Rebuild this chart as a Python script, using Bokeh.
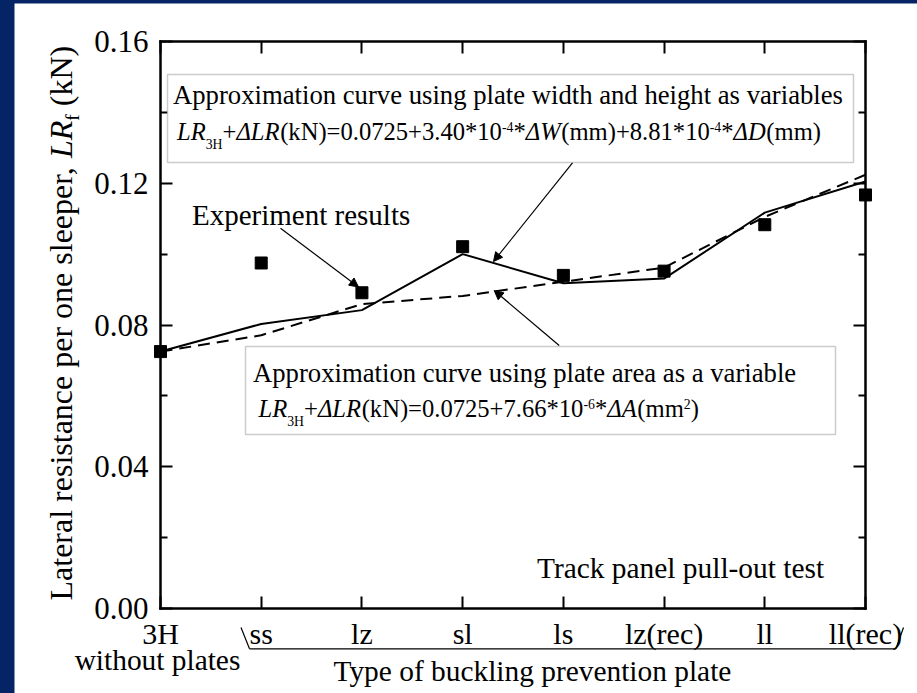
import math
from bokeh.plotting import figure
from bokeh.models import (Range1d, FixedTicker, LinearAxis, Label, BoxAnnotation,
                          Arrow, NormalHead, Spacer, PrintfTickFormatter)
from bokeh.layouts import column, row
from bokeh.embed import file_html
from bokeh.resources import INLINE

# ---------------- data ----------------
categories = ["3H", "ss", "lz", "sl", "ls", "lz(rec)", "ll", "ll(rec)"]
experiment = [0.0725, 0.0975, 0.0891, 0.1021, 0.0940, 0.0952, 0.1083, 0.1167]
fit_width_height = [0.0725, 0.0803, 0.0842, 0.1000, 0.0918, 0.0931, 0.1117, 0.1205]
fit_area = [0.0725, 0.0771, 0.0859, 0.0882, 0.0922, 0.0962, 0.1105, 0.1224]
y_ticks = [0.0, 0.04, 0.08, 0.12, 0.16]
y_minor = [0.02, 0.06, 0.10, 0.14]

NAVY = "#042466"
FONT = "Liberation Serif"

# plot box in page pixels (figure is placed at page offset 14,3 and covers the white area)
FX0, FX1, FY0, FY1 = 160, 865, 41, 608
XMAX, YMAX = len(categories) - 1, 0.16
BASE_FIX = 0.35  # baseline correction (em) for Label text in this renderer


def dx(px):
    return (px - FX0) / (FX1 - FX0) * XMAX


def dy(py):
    return (FY1 - py) / (FY1 - FY0) * YMAX


p = figure(width=903, height=690,
           x_range=Range1d(dx(14), dx(917)), y_range=Range1d(dy(693), dy(3)),
           output_backend="svg", toolbar_location=None,
           min_border_left=0, min_border_right=0, min_border_top=0, min_border_bottom=0,
           background_fill_color="white", border_fill_color="white")
p.xgrid.visible = False
p.ygrid.visible = False
p.outline_line_color = None

xs = list(range(len(categories)))

# axes (drawn at the edges of the data box)
xa = p.xaxis[0]
xa.ticker = FixedTicker(ticks=xs, minor_ticks=[])
xa.major_label_overrides = {i: c for i, c in enumerate(categories)}
xa.fixed_location = 0.0
xa.bounds = (0, XMAX)
ya = p.yaxis[0]
ya.ticker = FixedTicker(ticks=y_ticks, minor_ticks=y_minor)
ya.formatter = PrintfTickFormatter(format="%.2f")
ya.fixed_location = 0
ya.bounds = (0, YMAX)

top = LinearAxis(ticker=FixedTicker(ticks=xs, minor_ticks=[]), fixed_location=YMAX,
                 bounds=(0, XMAX), major_label_overrides={i: "" for i in xs})
right = LinearAxis(ticker=FixedTicker(ticks=y_ticks, minor_ticks=y_minor),
                   fixed_location=XMAX, bounds=(0, YMAX),
                   major_label_overrides={t: "" for t in y_ticks})
p.add_layout(top, "above")
p.add_layout(right, "right")

for ax in (xa, ya, top, right):
    ax.axis_line_color = "black"
    ax.axis_line_width = 2.5
    ax.axis_line_cap = "square"
    ax.major_tick_line_color = "black"
    ax.major_tick_line_width = 2
    ax.minor_tick_line_color = "black"
    ax.minor_tick_line_width = 2
    ax.major_tick_in = 12
    ax.major_tick_out = 0
    ax.minor_tick_in = 7
    ax.minor_tick_out = 0
    ax.major_label_text_font = FONT
    ax.major_label_text_color = "black"

xa.major_label_text_font_size = "30px"
xa.major_label_standoff = 8
ya.major_label_text_font_size = "31px"
ya.major_label_standoff = 12

# data
p.line(xs, fit_width_height, line_color="black", line_width=2)
p.line(xs, fit_area, line_color="black", line_width=2, line_dash="12 7")
p.scatter(xs, experiment, marker="square", size=12, fill_color="black", line_color="black")

# ---------------- text helpers ----------------
REG = {' ': 250, '(': 333, ')': 333, '*': 500, '+': 564, ',': 250, '-': 333, '.': 250,
       '=': 564, 'A': 722, 'D': 722, 'H': 722, 'L': 611, 'N': 722, 'R': 667, 'W': 944,
       'a': 444, 'b': 500, 'c': 444, 'd': 500, 'e': 444, 'f': 333, 'g': 500, 'h': 500,
       'i': 278, 'k': 500, 'l': 278, 'm': 778, 'n': 500, 'o': 500, 'p': 500, 'r': 333,
       's': 389, 't': 278, 'u': 500, 'v': 500, 'w': 722, 'x': 500, 'y': 500, '\u0394': 612}
ITA = {'L': 556, 'R': 611, 'W': 833, 'D': 722, 'A': 611, '\u0394': 612}


def twidth(txt, style, size):
    tab = ITA if style == "italic" else REG
    return sum(tab.get(ch, REG.get(ch, 500)) for ch in txt) / 1000.0 * size


def label(px, py, txt, size, style="normal", align="left", angle=0.0):
    c = BASE_FIX * size
    if angle == 0.0:
        py -= c
    else:
        px -= c
    p.add_layout(Label(x=dx(px), y=dy(py), text=txt, text_font=FONT,
                       text_font_size=f"{size}px", text_font_style=style,
                       text_align=align, text_baseline="alphabetic", angle=angle,
                       text_color="black"))


def rich(px, py, pieces, F):
    x = px
    for txt, style, kind in pieces:
        if kind == "n":
            size, shift = F, 0
        elif kind == "sub":
            size, shift = F * 0.56, 0.36 * F
        else:
            size, shift = F * 0.56, -0.34 * F
        lead = len(txt) - len(txt.lstrip(" "))
        x += twidth(" " * lead, style, size)
        label(x, py + shift, txt.strip(" "), round(size, 2), style)
        x += twidth(txt.lstrip(" "), style, size)


def rich_vertical(px, py, pieces, F):
    y = py
    for txt, style, kind in pieces:
        if kind == "n":
            size, shift = F, 0
        else:
            size, shift = F * 0.6, 0.22 * F
        lead = len(txt) - len(txt.lstrip(" "))
        y -= twidth(" " * lead, style, size)
        label(px + shift, y, txt.strip(" "), round(size, 2), style, angle=math.pi / 2)
        y -= twidth(txt.lstrip(" "), style, size)


# boxes
p.add_layout(BoxAnnotation(left=dx(167), right=dx(853), top=dy(74), bottom=dy(162),
                           fill_color="white", fill_alpha=1, line_color="#555555",
                           line_width=1.5))
p.add_layout(BoxAnnotation(left=dx(245), right=dx(835), top=dy(346), bottom=dy(434),
                           fill_color="white", fill_alpha=1, line_color="#555555",
                           line_width=1.5))

label(172.5, 104, "Approximation curve using plate width and height as variables", 26.7)
rich(176.5, 140, [("LR", "italic", "n"), ("3H", "normal", "sub"), ("+", "normal", "n"),
                  ("\u0394LR", "italic", "n"), ("(kN)=0.0725+3.40*10", "normal", "n"),
                  ("-4", "normal", "sup"), ("*", "normal", "n"), ("\u0394W", "italic", "n"),
                  ("(mm)+8.81*10", "normal", "n"), ("-4", "normal", "sup"),
                  ("*", "normal", "n"), ("\u0394D", "italic", "n"), ("(mm)", "normal", "n")],
     24.6)

label(252.5, 381.5, "Approximation curve using plate area as a variable", 26.7)
rich(258, 417, [("LR", "italic", "n"), ("3H", "normal", "sub"), ("+", "normal", "n"),
                ("\u0394LR", "italic", "n"), ("(kN)=0.0725+7.66*10", "normal", "n"),
                ("-6", "normal", "sup"), ("*", "normal", "n"), ("\u0394A", "italic", "n"),
                ("(mm", "normal", "n"), ("2", "normal", "sup"), (")", "normal", "n")],
     24.6)

label(191.5, 225, "Experiment results", 29)
label(536.5, 578, "Track panel pull-out test", 29.4)
label(333, 681, "Type of buckling prevention plate", 29.4)
label(157, 670, "without plates", 29.4, align="center")

rich_vertical(72, 600, [("Lateral resistance per one sleeper, ", "normal", "n"),
                        ("LR", "italic", "n"), ("f", "normal", "sub"),
                        (" (kN)", "normal", "n")], 32)


def arrow(x0, y0, x1, y1, head=True):
    end = NormalHead(size=9, fill_color="black", line_color="black", line_width=1) if head else None
    p.add_layout(Arrow(end=end, x_start=dx(x0), y_start=dy(y0), x_end=dx(x1), y_end=dy(y1),
                       line_color="black", line_width=1.2))


arrow(280, 227.7, 358, 286.5)
arrow(572, 162.3, 493, 261)
arrow(558.7, 345, 493.7, 290)

# bracket under the category labels
arrow(240.5, 627, 249, 648.3, head=False)
arrow(249, 648.3, 895.5, 648.3, head=False)
arrow(895.5, 648.3, 903, 627, head=False)

root = column(Spacer(width=917, height=3),
              row(Spacer(width=14, height=690), p),
              styles={"background-color": NAVY})

open("out.html", "w").write(file_html(root, INLINE))
